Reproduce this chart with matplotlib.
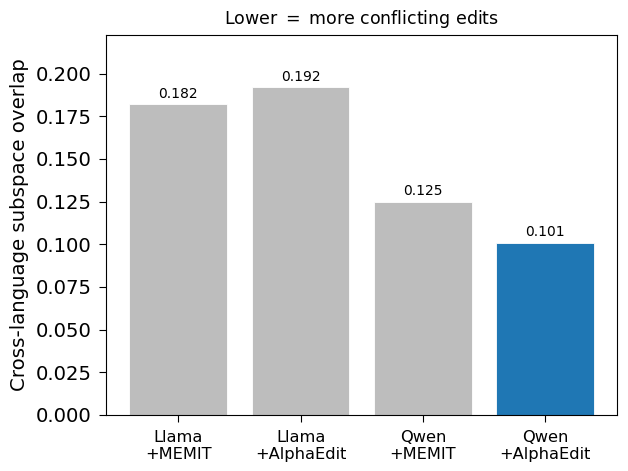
import matplotlib
matplotlib.use("Agg")
import matplotlib.pyplot as plt

labels = ["Llama\n+MEMIT", "Llama\n+AlphaEdit", "Qwen\n+MEMIT", "Qwen\n+AlphaEdit"]
overlap = [0.182, 0.192, 0.125, 0.101]
colors = ["#bdbdbd", "#bdbdbd", "#bdbdbd", "#1f77b4"]

fig, ax = plt.subplots(figsize=(6.28, 4.71), dpi=100)
bars = ax.bar(range(len(labels)), overlap, color=colors, width=0.8,
              edgecolor="white", linewidth=0.6)
for b, v in zip(bars, overlap):
    ax.text(b.get_x() + b.get_width() / 2, v + 0.002, "%.3f" % v,
            ha="center", va="bottom", fontsize=10)

ax.set_xticks(range(len(labels)))
ax.set_xticklabels(labels, fontsize=11.7)
ax.tick_params(axis="y", labelsize=14.1)
ax.tick_params(length=5, pad=5.5)
ax.set_ylim(0, max(overlap) * 1.16)
ax.set_ylabel("Cross-language subspace overlap", fontsize=14.2, labelpad=5)
ax.set_title("Lower $=$ more conflicting edits", fontsize=12.5, pad=8)

fig.subplots_adjust(left=0.169, right=0.983, top=0.926, bottom=0.119)
fig.savefig("out.png", dpi=100)
